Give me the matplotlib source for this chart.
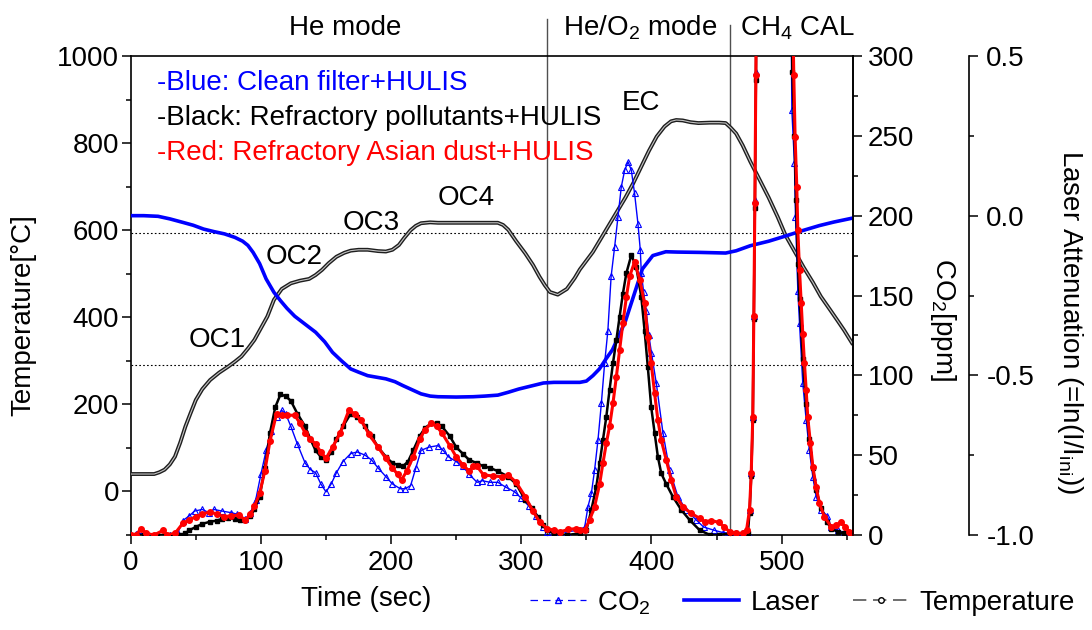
import numpy as np
import matplotlib
matplotlib.use('Agg')
from matplotlib import pyplot as plt
from matplotlib.lines import Line2D
from matplotlib.ticker import MultipleLocator, FormatStrFormatter

plt.rcParams['font.family'] = ['Liberation Sans', 'DejaVu Sans']
plt.rcParams['mathtext.default'] = 'regular'
plt.rcParams['axes.unicode_minus'] = False

# oven temperature (left axis, deg C)
temp_time = [0, 10, 18, 22, 26, 30, 34, 38, 42, 46, 50, 55, 61, 68, 75, 80, 85, 90, 95, 100,
             105, 110, 116, 123, 130, 137, 142, 147, 152, 158, 164, 169, 175, 182, 190, 196, 201, 206, 210, 215,
             219, 223, 230, 236, 250, 265, 282, 286, 290, 296, 303, 309, 314, 318, 322, 328, 335, 341, 345, 350,
             355, 360, 365, 370, 375, 380, 386, 392, 398, 404, 410, 415, 419, 424, 430, 436, 445, 452, 457, 461,
             465, 470, 476, 482, 490, 497, 503, 510, 517, 524, 530, 537, 543, 548, 554]
temp_value = [40, 40, 40, 44, 50, 62, 80, 112, 149, 180, 210, 235, 256, 273, 287, 298, 310, 328, 348, 375,
              402, 440, 465, 478, 484, 488, 497, 509, 524, 539, 548, 553, 555, 555, 552, 551, 555, 566, 582, 600,
              610, 616, 618, 617, 617, 617, 617, 612, 601, 575, 547, 520, 493, 474, 458, 452, 465, 490, 510, 530,
              550, 575, 600, 625, 650, 675, 708, 745, 782, 815, 838, 850, 853, 852, 848, 846, 847, 847, 846, 835,
              822, 795, 757, 722, 675, 630, 588, 551, 514, 480, 448, 418, 392, 370, 341]

# laser attenuation (far right axis)
laser_time = [0, 10, 21, 30, 40, 48, 56, 64, 72, 80, 86, 90, 94, 99, 104, 110, 115, 120, 126, 134,
              142, 149, 155, 162, 169, 175, 182, 189, 196, 203, 209, 216, 223, 230, 236, 250, 263, 272, 282, 290,
              298, 308, 317, 325, 335, 345, 350, 355, 360, 365, 370, 375, 380, 386, 393, 401, 411, 420, 437, 457,
              465, 476, 490, 502, 515, 529, 540, 554]
laser_value = [0.0, 0.0, -0.002, -0.01, -0.021, -0.03, -0.042, -0.05, -0.057, -0.068, -0.08, -0.093, -0.115, -0.15, -0.198, -0.24, -0.266, -0.29, -0.315, -0.34,
               -0.365, -0.395, -0.428, -0.455, -0.48, -0.49, -0.501, -0.506, -0.511, -0.52, -0.532, -0.545, -0.558, -0.565, -0.567, -0.568, -0.567, -0.565, -0.562, -0.553,
               -0.543, -0.533, -0.524, -0.522, -0.522, -0.522, -0.518, -0.501, -0.48, -0.449, -0.42, -0.376, -0.33, -0.255, -0.167, -0.125, -0.113, -0.114, -0.115, -0.117,
               -0.11, -0.094, -0.08, -0.065, -0.048, -0.031, -0.02, -0.008]

# CO2 (right axis, ppm) -- blue: clean filter + HULIS
blue_time = [0, 4, 8, 12, 20, 30, 36, 40, 45, 49, 55, 60, 64, 70, 77, 82, 88, 92, 96, 100,
             104, 108, 112, 116, 119, 123, 128, 134, 138, 142, 146, 150, 154, 158, 163, 169, 174, 180, 185, 190,
             196, 201, 207, 211, 215, 219, 223, 229, 236, 240, 244, 250, 255, 260, 266, 270, 276, 282, 288, 295,
             300, 306, 311, 317, 320,
             325, 335, 344, 348.7, 351.2, 353.8, 356.3, 358.9, 361.5, 364, 366.5, 369, 371.7, 374.2, 376.8, 379.4,
             382, 384.5, 387, 389.6, 391.4, 392.2, 394, 396, 398, 400, 403.7, 408.8, 413.9, 420.3, 426.7, 434.4,
             440, 448, 455, 460,
             465, 470, 474, 475.3, 476.6, 477.8, 478.6, 479.4, 480.2, 481, 494, 506.5, 507.8, 509.8, 510.6, 512.4,
             513.7, 516.2, 518.8, 521.3, 523.9, 526.5, 530.3, 535, 538, 543, 548, 554]
blue_co2 = [0, 0.5, 3, 0.5, 0, 0, 1, 9, 12, 15, 16, 14, 16, 15, 14, 13, 10, 14, 22, 38,
            53, 65, 74, 78, 76, 68, 57, 45, 41, 39, 32, 27, 32, 39, 46, 51, 52, 50, 47, 42,
            36.5, 32, 29, 29, 31, 42, 53, 55, 56, 53, 49, 46, 43, 38, 33, 34, 33, 33, 30, 27,
            23, 18, 12, 5, 2,
            1, 2, 3, 5, 17.7, 26, 40.7, 59.5, 82.5, 107.5, 128, 162, 180.5, 199, 218, 228.5,
            233.7, 228.5, 214, 195, 178.5, 164, 152, 140, 125, 114, 95, 64, 40.7, 24, 15.7, 9.4,
            5, 3, 1.5, 1,
            1, 1, 1, 15.7, 38.6, 74, 137, 210, 290, 380, 1500, 400, 266, 232.7, 199, 153,
            132.5, 95, 72, 53, 36.5, 24, 15.7, 12, 5, 3, 1.5, 0.5]

# black: refractory pollutants + HULIS
black_time = [0, 10, 20, 30, 38, 42, 45, 50, 55, 61, 66, 70, 75, 80, 84, 88, 92, 95, 99, 103,
              107, 111, 115, 119, 123, 128, 134, 138, 142, 146, 150, 154, 158, 163, 169, 174, 180, 185, 190, 196,
              201, 205, 209, 213, 217, 222, 226, 231, 235, 239, 245, 250, 255, 260, 266, 271, 276, 282, 290, 296,
              303, 308, 313, 317, 320,
              325, 335, 345, 350, 353.8, 357.6, 360.2, 362.7, 365.3, 367.8, 370.4, 373, 375.5, 378, 380.7, 384.5,
              388.3, 392.2, 394.7, 397.2, 399.8, 402.4, 404.9, 407.5, 411.3, 416.4, 422.9, 429.3, 437, 445, 452, 460,
              465, 470, 474, 475.3, 476.6, 477.8, 478.6, 479.4, 480.2, 481, 494, 506.7, 508.2, 509.8, 511, 512.4,
              513.7, 516.2, 518.8, 521.3, 523.9, 526.5, 530.3, 535, 538, 543, 548, 554]
black_co2 = [0, 0, 0, 0, 0, 1, 3, 5, 7, 8.3, 9, 10, 10.4, 10, 9.5, 9.4, 12, 16, 24, 42,
             64, 80, 88, 87, 84, 76, 68, 60, 53, 49, 47, 52, 60, 68, 76, 74, 68, 62, 55, 49,
             45, 44, 43, 46, 53, 62, 67, 70, 70, 68, 62, 55, 51, 47, 45, 43, 42, 40, 36.5, 32,
             22, 17, 11, 6, 3,
             1, 0, 1, 3, 15.7, 30, 45, 59.5, 74, 91, 107.5, 122, 136.7, 151, 164, 175.3,
             168, 149, 128, 105, 80, 64, 49, 38.6, 32, 24, 15.7, 9.4, 3, 0, 0, 1,
             1, 1, 1, 14, 37, 72, 135, 205, 285, 380, 1500, 400, 290, 250, 210, 170,
             148, 110, 82, 60, 42, 28, 17, 8, 4, 2, 1, 0.5]

# red: refractory Asian dust + HULIS
red_time = [0, 4, 8, 12, 18, 25, 28, 34, 40, 45, 50, 55, 61, 66, 72, 77, 83, 88, 92, 95,
            99, 103, 107, 112, 116, 120, 126, 130, 134, 138, 142, 146, 150, 155, 161, 167.5, 172, 177, 183, 190,
            196, 201, 205, 208, 212, 217, 222, 226, 231, 235, 239, 245, 250, 255, 260, 263, 266, 271, 278, 285,
            290, 296, 303, 309, 314, 320,
            325, 330, 336, 342, 345, 348.7, 352.5, 356.3, 360.2, 362.7, 365.3, 367.8, 370.4, 373, 375.5, 378,
            380.7, 383.2, 387, 391, 394.7, 397.2, 399.8, 402.4, 404.9, 407.5, 411.3, 415.2, 419, 424.1, 430.5, 437,
            441, 446, 451.5, 456, 460,
            465, 470, 473, 475.3, 476.6, 477.8, 478.6, 479.4, 480.2, 481, 494, 507, 509.3, 510.3, 511.6, 512.4,
            513.7, 515, 516.2, 517.5, 518.8, 520, 522.1, 523.9, 526.5, 529, 532.8, 538, 542, 545.6, 549, 552, 554]
red_co2 = [0, 0, 4, 1, 0, 3, 0, 1, 7.3, 9.5, 11.5, 13, 14.6, 13, 11.5, 12, 12.5, 9.4, 13, 18,
           26, 40, 59, 76, 75, 75, 75, 70, 64, 60, 57, 52, 48, 55, 64, 78, 76, 72, 63, 55,
           48, 42, 38, 34.5, 40, 49, 60, 66, 70, 68, 64, 56, 49, 44, 40, 43, 43, 37.6, 37, 36.5,
           37.6, 33, 24, 15, 8.3, 4,
           3, 2, 3.5, 4, 3, 3, 9.4, 17.7, 32, 45, 57.4, 68, 82.5, 99, 116, 132.5,
           149, 162, 171, 160, 145, 124, 107.5, 88.7, 72, 59.5, 47, 34.4, 24, 17.7, 13.6, 10.4,
           8.3, 9, 8, 5, 2,
           1, 1, 3, 15.7, 38.6, 74, 137, 208, 288, 380, 1500, 400, 288, 249.4, 218, 191,
           166, 145, 126, 107.5, 91, 74, 57.4, 42.8, 30, 19.8, 11.5, 5.2, 6, 8.3, 5, 2, 1]

mode_edges = [320, 460]
ref_lines = [593, 291.5]

peak_labels = ['OC1', 'OC2', 'OC3', 'OC4', 'EC']
peak_label_time = [66.6, 125.3, 185, 258, 392]
peak_label_temp = [348, 539, 617, 673, 891]

sample_names = ['-Blue: Clean filter+HULIS',
                '-Black: Refractory pollutants+HULIS',
                '-Red: Refractory Asian dust+HULIS']
sample_colors = ['#0000ff', 'black', '#ff0000']

fs = 20

fig = plt.figure(figsize=(10.92, 6.3), dpi=100)
ax = fig.add_axes([0.1197, 0.1508, 0.6617, 0.7603])
ax_laser = ax.twinx()
ax_co2 = ax.twinx()

# temperature: hollow-marker look
ax.plot(temp_time, temp_value, color='#1e1e1e', lw=2.8, zorder=3)
ax.plot(temp_time, temp_value, color='#c4c4c4', lw=0.8, zorder=3)

for y in ref_lines:
    ax.axhline(y, color='black', lw=0.8, ls=(0, (1.5, 2)), zorder=1)
for x, ytop in zip(mode_edges, [1085, 1071]):
    ax.plot([x, x], [-100, ytop], color='#505050', lw=1.0, clip_on=False, zorder=2)

for lab, t, T in zip(peak_labels, peak_label_time, peak_label_temp):
    ax.text(t, T, lab, fontsize=fs, ha='center', va='center')

for i, (name, c) in enumerate(zip(sample_names, sample_colors)):
    ax.text(20, 938 - 80.5 * i, name, color=c, fontsize=fs, ha='left', va='center')

ax_laser.plot(laser_time, laser_value, color='#0000ff', lw=2.6, zorder=3)

ax_co2.plot(blue_time, blue_co2, color='#0000ff', lw=1.0, marker='^', ms=4, mfc='none', mec='#0000ff', mew=0.8)
ax_co2.plot(black_time, black_co2, color='black', lw=1.8, marker='s', ms=3.5, mec='black')
ax_co2.plot(red_time, red_co2, color='#ff0000', lw=2.2, marker='o', ms=4, mec='#ff0000')

# axes
ax.set_xlim(0, 555)
ax.set_ylim(-100, 1000)
ax_co2.set_ylim(0, 300)
ax_laser.set_ylim(-1.0, 0.5)

ax.xaxis.set_major_locator(MultipleLocator(100))
ax.xaxis.set_minor_locator(MultipleLocator(50))
ax.yaxis.set_major_locator(MultipleLocator(200))
ax.yaxis.set_minor_locator(MultipleLocator(100))
ax_co2.yaxis.set_major_locator(MultipleLocator(50))
ax_co2.yaxis.set_minor_locator(MultipleLocator(25))
ax_laser.yaxis.set_major_locator(MultipleLocator(0.5))
ax_laser.yaxis.set_minor_locator(MultipleLocator(0.25))
ax_laser.yaxis.set_major_formatter(FormatStrFormatter('%.1f'))

for a in (ax, ax_co2, ax_laser):
    a.tick_params(which='major', direction='out', length=6.5, width=1.1, labelsize=fs)
    a.tick_params(which='minor', direction='out', length=3.6, width=1.1)
    for s in a.spines.values():
        s.set_linewidth(1.2)
ax.tick_params(axis='y', pad=2)
ax.tick_params(axis='x', pad=4)
ax.tick_params(top=False, right=False, which='both')
ax_co2.tick_params(axis='y', pad=4)
ax_laser.tick_params(axis='y', pad=6)

ax_laser.spines['right'].set_position(('axes', 1.1601))
for side in ('left', 'top', 'bottom'):
    ax_laser.spines[side].set_visible(False)
    ax_co2.spines[side].set_visible(False)

ax.set_xlabel('Time (sec)', fontsize=fs)
ax.xaxis.set_label_coords(0.326, -0.107)
ax.set_ylabel('Temperature[°C]', fontsize=fs)
ax.yaxis.set_label_coords(-0.13, 0.46)
ax_co2.set_ylabel('CO$_2$[ppm]', fontsize=fs, rotation=270, va='center')
ax_co2.yaxis.set_label_coords(1.124, 0.45)
ax_laser.set_ylabel('Laser Attenuation (=ln(I/I$_{ini}$))', fontsize=fs, rotation=270, va='center')
ax_laser.yaxis.set_label_coords(1.30, 0.445)

# mode headers above the frame
fig.text(345 / 1092, 0.944, 'He mode', fontsize=fs, ha='center', va='baseline')
fig.text(640 / 1092, 0.944, 'He/O$_2$ mode', fontsize=fs, ha='center', va='baseline')
fig.text(797 / 1092, 0.944, 'CH$_4$ CAL', fontsize=fs, ha='center', va='baseline')

handles = [
    Line2D([], [], color='#0000ff', lw=0.9, ls=(0, (6, 4)), marker='^', ms=5, mfc='none', mec='#0000ff'),
    Line2D([], [], color='#0000ff', lw=2.6),
    Line2D([], [], color='#555555', lw=1.2, ls=(0, (8, 4)), marker='o', ms=4, mfc='white', mec='black'),
]
fig.legend(handles, ['CO$_2$', 'Laser', 'Temperature'], loc='center', ncol=3,
           bbox_to_anchor=(0.735, 0.043), frameon=False, fontsize=fs,
           handlelength=2.0, handletextpad=0.4, columnspacing=1.2)

fig.savefig('out.png', dpi=100)
